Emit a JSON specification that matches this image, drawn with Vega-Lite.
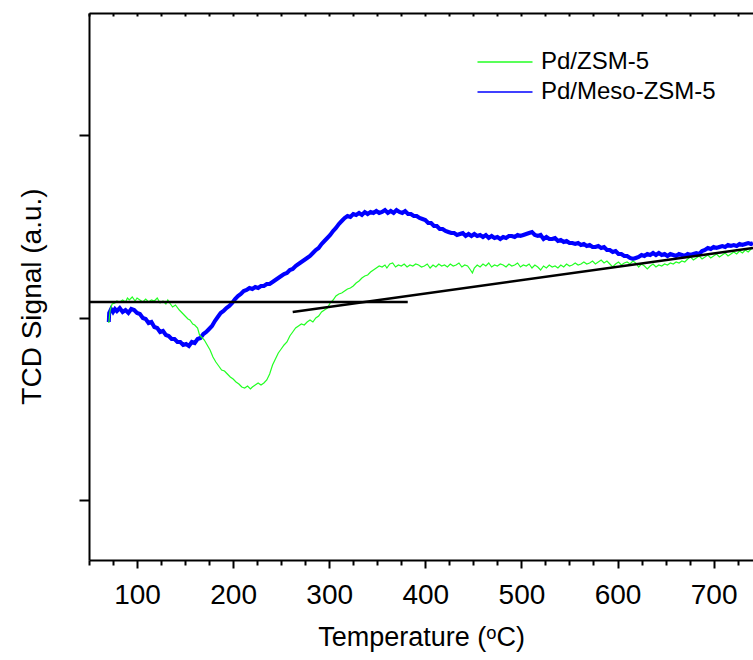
{
  "$schema": "https://vega.github.io/schema/vega-lite/v6.json",
  "width": 664,
  "height": 547,
  "autosize": {"type": "none"},
  "padding": {"left": 89, "top": 13, "right": 0, "bottom": 100},
  "config": {
    "font": "Liberation Sans",
    "view": {"stroke": null},
    "axis": {"grid": false, "domainColor": "black", "tickColor": "black", "labelColor": "black", "titleColor": "black", "titleFontWeight": "normal", "domainWidth": 2, "tickWidth": 2}
  },
  "datasets": {
    "zsm5": [
      {"T":70.6,"v":237},{"T":72,"v":250},{"T":74,"v":256},{"T":77,"v":257},{"T":79,"v":259},{"T":82,"v":258},{"T":85,"v":260},{"T":88,"v":258},{"T":90,"v":262},{"T":92,"v":260},{"T":95,"v":263},{"T":98,"v":259},{"T":100,"v":262},{"T":103,"v":260},{"T":106,"v":258},{"T":109,"v":261},{"T":112,"v":258},{"T":115,"v":260},{"T":118,"v":259},{"T":121,"v":262},{"T":124,"v":257},{"T":127,"v":259},{"T":130,"v":256},{"T":132,"v":260},{"T":134,"v":257},{"T":137,"v":253},{"T":140,"v":255},{"T":144,"v":250},{"T":147,"v":247},{"T":150,"v":244},{"T":153,"v":241},{"T":155,"v":240},{"T":158,"v":236},{"T":160,"v":235},{"T":163,"v":232},{"T":165,"v":225},{"T":168,"v":222},{"T":170,"v":220},{"T":173,"v":215},{"T":176,"v":210},{"T":179,"v":203},{"T":182,"v":198},{"T":185,"v":194},{"T":188,"v":190},{"T":191,"v":189},{"T":194,"v":186},{"T":197,"v":183},{"T":200,"v":181},{"T":203,"v":178},{"T":206,"v":176},{"T":209,"v":173},{"T":212,"v":172},{"T":215,"v":174},{"T":218,"v":171},{"T":220,"v":173},{"T":223,"v":175},{"T":226,"v":177},{"T":229,"v":175},{"T":232,"v":177},{"T":235,"v":180},{"T":238,"v":186},{"T":241,"v":195},{"T":244,"v":201},{"T":247,"v":207},{"T":250,"v":211},{"T":253,"v":215},{"T":256,"v":218},{"T":259,"v":224},{"T":262,"v":228},{"T":265,"v":232},{"T":268,"v":234},{"T":271,"v":236},{"T":274,"v":235},{"T":277,"v":238},{"T":280,"v":240},{"T":283,"v":238},{"T":286,"v":242},{"T":289,"v":244},{"T":292,"v":248},{"T":295,"v":250},{"T":298,"v":252},{"T":301,"v":257},{"T":304,"v":260},{"T":307,"v":264},{"T":310,"v":266},{"T":313,"v":267},{"T":316,"v":269},{"T":319,"v":271},{"T":322,"v":272},{"T":325,"v":274},{"T":328,"v":277},{"T":331,"v":279},{"T":334,"v":282},{"T":337,"v":284},{"T":340,"v":285},{"T":343,"v":288},{"T":346,"v":290},{"T":349,"v":292},{"T":352,"v":294},{"T":355,"v":293},{"T":358,"v":295},{"T":360,"v":292},{"T":363,"v":296},{"T":366,"v":297},{"T":369,"v":293},{"T":372,"v":295},{"T":375,"v":294},{"T":378,"v":296},{"T":381,"v":293},{"T":384,"v":295},{"T":387,"v":294},{"T":390,"v":296},{"T":393,"v":295},{"T":396,"v":293},{"T":399,"v":294},{"T":402,"v":296},{"T":405,"v":292},{"T":408,"v":295},{"T":411,"v":293},{"T":414,"v":296},{"T":417,"v":294},{"T":420,"v":295},{"T":423,"v":293},{"T":426,"v":296},{"T":429,"v":294},{"T":432,"v":295},{"T":435,"v":297},{"T":438,"v":293},{"T":441,"v":295},{"T":444,"v":294},{"T":447,"v":290},{"T":449,"v":287},{"T":451,"v":292},{"T":454,"v":295},{"T":457,"v":293},{"T":460,"v":296},{"T":463,"v":294},{"T":466,"v":297},{"T":469,"v":293},{"T":472,"v":295},{"T":475,"v":294},{"T":478,"v":296},{"T":481,"v":295},{"T":484,"v":293},{"T":487,"v":296},{"T":490,"v":294},{"T":493,"v":295},{"T":496,"v":297},{"T":499,"v":293},{"T":502,"v":295},{"T":505,"v":294},{"T":508,"v":296},{"T":511,"v":292},{"T":514,"v":295},{"T":517,"v":293},{"T":520,"v":290},{"T":523,"v":294},{"T":526,"v":292},{"T":529,"v":295},{"T":532,"v":293},{"T":535,"v":294},{"T":538,"v":292},{"T":541,"v":295},{"T":544,"v":293},{"T":547,"v":296},{"T":550,"v":294},{"T":553,"v":295},{"T":556,"v":297},{"T":559,"v":295},{"T":562,"v":296},{"T":565,"v":298},{"T":568,"v":296},{"T":571,"v":297},{"T":574,"v":299},{"T":577,"v":296},{"T":580,"v":298},{"T":583,"v":300},{"T":586,"v":297},{"T":589,"v":299},{"T":592,"v":296},{"T":595,"v":293},{"T":598,"v":296},{"T":601,"v":298},{"T":604,"v":295},{"T":607,"v":297},{"T":610,"v":298},{"T":613,"v":296},{"T":616,"v":299},{"T":619,"v":297},{"T":622,"v":293},{"T":625,"v":296},{"T":628,"v":294},{"T":631,"v":291},{"T":634,"v":294},{"T":637,"v":296},{"T":640,"v":293},{"T":643,"v":295},{"T":646,"v":294},{"T":649,"v":296},{"T":652,"v":295},{"T":655,"v":297},{"T":658,"v":296},{"T":661,"v":298},{"T":664,"v":297},{"T":667,"v":299},{"T":670,"v":298},{"T":673,"v":301},{"T":676,"v":303},{"T":679,"v":300},{"T":682,"v":302},{"T":685,"v":304},{"T":688,"v":301},{"T":691,"v":303},{"T":694,"v":305},{"T":697,"v":302},{"T":700,"v":304},{"T":703,"v":306},{"T":706,"v":303},{"T":709,"v":305},{"T":712,"v":307},{"T":715,"v":304},{"T":718,"v":306},{"T":721,"v":308},{"T":724,"v":306},{"T":727,"v":309},{"T":730,"v":307},{"T":733,"v":310},{"T":736,"v":308},{"T":739,"v":311},{"T":741,"v":312}
    ],
    "meso": [
      {"T":70.6,"v":238},{"T":71,"v":247},{"T":73,"v":251},{"T":75,"v":248},{"T":77,"v":251},{"T":79,"v":249},{"T":82,"v":252},{"T":85,"v":248},{"T":88,"v":250},{"T":91,"v":247},{"T":94,"v":251},{"T":97,"v":250},{"T":100,"v":247},{"T":103,"v":246},{"T":106,"v":242},{"T":109,"v":241},{"T":112,"v":237},{"T":115,"v":238},{"T":118,"v":233},{"T":121,"v":232},{"T":124,"v":228},{"T":127,"v":229},{"T":130,"v":225},{"T":133,"v":224},{"T":136,"v":221},{"T":139,"v":221},{"T":142,"v":218},{"T":145,"v":218},{"T":148,"v":215},{"T":151,"v":216},{"T":154,"v":214},{"T":157,"v":218},{"T":160,"v":217},{"T":163,"v":221},{"T":166,"v":222},{"T":169,"v":226},{"T":172,"v":228},{"T":175,"v":231},{"T":178,"v":234},{"T":181,"v":239},{"T":184,"v":243},{"T":187,"v":247},{"T":190,"v":249},{"T":193,"v":252},{"T":196,"v":254},{"T":199,"v":257},{"T":202,"v":261},{"T":205,"v":264},{"T":208,"v":266},{"T":211,"v":269},{"T":214,"v":270},{"T":217,"v":272},{"T":220,"v":271},{"T":223,"v":273},{"T":226,"v":272},{"T":229,"v":274},{"T":232,"v":274},{"T":235,"v":276},{"T":238,"v":276},{"T":241,"v":278},{"T":244,"v":280},{"T":247,"v":282},{"T":250,"v":284},{"T":253,"v":286},{"T":256,"v":287},{"T":259,"v":290},{"T":262,"v":291},{"T":265,"v":294},{"T":268,"v":296},{"T":271,"v":298},{"T":274,"v":300},{"T":277,"v":302},{"T":280,"v":304},{"T":283,"v":307},{"T":286,"v":310},{"T":289,"v":312},{"T":292,"v":316},{"T":295,"v":319},{"T":298,"v":322},{"T":301,"v":325},{"T":304,"v":329},{"T":307,"v":332},{"T":310,"v":336},{"T":313,"v":339},{"T":316,"v":342},{"T":319,"v":344},{"T":322,"v":343},{"T":325,"v":346},{"T":328,"v":345},{"T":331,"v":347},{"T":334,"v":345},{"T":337,"v":348},{"T":340,"v":346},{"T":343,"v":348},{"T":346,"v":347},{"T":349,"v":349},{"T":352,"v":347},{"T":355,"v":348},{"T":358,"v":350},{"T":361,"v":347},{"T":364,"v":349},{"T":367,"v":347},{"T":370,"v":350},{"T":373,"v":348},{"T":376,"v":347},{"T":379,"v":349},{"T":382,"v":346},{"T":385,"v":346},{"T":388,"v":344},{"T":391,"v":344},{"T":394,"v":342},{"T":397,"v":341},{"T":400,"v":340},{"T":403,"v":337},{"T":406,"v":337},{"T":409,"v":334},{"T":412,"v":334},{"T":415,"v":331},{"T":418,"v":331},{"T":421,"v":329},{"T":424,"v":328},{"T":427,"v":327},{"T":430,"v":327},{"T":433,"v":325},{"T":436,"v":326},{"T":439,"v":327},{"T":442,"v":324},{"T":445,"v":326},{"T":448,"v":324},{"T":451,"v":326},{"T":454,"v":324},{"T":457,"v":325},{"T":460,"v":323},{"T":463,"v":325},{"T":466,"v":322},{"T":469,"v":324},{"T":472,"v":322},{"T":475,"v":323},{"T":478,"v":321},{"T":481,"v":323},{"T":484,"v":322},{"T":487,"v":324},{"T":490,"v":324},{"T":493,"v":323},{"T":496,"v":325},{"T":499,"v":324},{"T":502,"v":325},{"T":505,"v":326},{"T":508,"v":327},{"T":511,"v":328},{"T":514,"v":325},{"T":517,"v":324},{"T":520,"v":325},{"T":523,"v":321},{"T":526,"v":323},{"T":529,"v":321},{"T":532,"v":321},{"T":535,"v":322},{"T":538,"v":319},{"T":541,"v":320},{"T":544,"v":318},{"T":547,"v":319},{"T":550,"v":317},{"T":553,"v":317},{"T":556,"v":316},{"T":559,"v":317},{"T":562,"v":315},{"T":565,"v":316},{"T":568,"v":314},{"T":571,"v":315},{"T":574,"v":313},{"T":577,"v":313},{"T":580,"v":314},{"T":583,"v":312},{"T":586,"v":313},{"T":589,"v":310},{"T":592,"v":310},{"T":595,"v":308},{"T":598,"v":309},{"T":601,"v":306},{"T":604,"v":306},{"T":607,"v":304},{"T":610,"v":304},{"T":613,"v":302},{"T":616,"v":301},{"T":619,"v":302},{"T":622,"v":303},{"T":625,"v":305},{"T":628,"v":304},{"T":631,"v":306},{"T":634,"v":305},{"T":637,"v":307},{"T":640,"v":305},{"T":643,"v":307},{"T":646,"v":305},{"T":649,"v":306},{"T":652,"v":304},{"T":655,"v":306},{"T":658,"v":305},{"T":661,"v":304},{"T":664,"v":306},{"T":667,"v":305},{"T":670,"v":304},{"T":673,"v":306},{"T":676,"v":305},{"T":679,"v":306},{"T":682,"v":307},{"T":685,"v":306},{"T":688,"v":309},{"T":691,"v":310},{"T":694,"v":312},{"T":697,"v":311},{"T":700,"v":313},{"T":703,"v":312},{"T":706,"v":313},{"T":709,"v":314},{"T":712,"v":313},{"T":715,"v":315},{"T":718,"v":314},{"T":721,"v":315},{"T":724,"v":314},{"T":727,"v":316},{"T":730,"v":315},{"T":733,"v":316},{"T":736,"v":317},{"T":739,"v":316},{"T":741,"v":317}
    ],
    "baseline": [
      {"seg":"onset","T":50.5,"v":258},{"seg":"onset","T":381.7,"v":258},
      {"seg":"slope","T":262,"v":248},{"seg":"slope","T":741,"v":312}
    ]
  },
  "layer": [
    {
      "data": {"name": "meso"},
      "mark": {"type": "line", "strokeWidth": 4, "clip": true},
      "encoding": {
        "x": {"field": "T", "type": "quantitative", "scale": {"domain": [50, 741], "nice": false, "zero": false},
          "axis": {"orient": "bottom", "values": [100,200,300,400,500,600,700], "tickSize": 8, "labelFontSize": 28, "labelPadding": 13, "title": "Temperature (ᵒC)", "titleFontSize": 27, "titlePadding": 15}},
        "y": {"field": "v", "type": "quantitative", "scale": {"domain": [0, 547], "nice": false, "zero": false},
          "axis": {"orient": "left", "values": [60, 242.5, 425], "labels": false, "tickSize": 10, "title": "TCD Signal (a.u.)", "titleFontSize": 28, "titlePadding": 32, "titleY": 283}},
        "color": {"datum": "Pd/Meso-ZSM-5", "type": "nominal",
          "scale": {"domain": ["Pd/ZSM-5", "Pd/Meso-ZSM-5"], "range": ["#22ff22", "#0000ff"]},
          "legend": {"orient": "none", "legendX": 404, "legendY": 37, "title": null, "symbolType": "M-5,0H5", "symbolSize": 121, "symbolStrokeWidth": 1.5, "symbolFillColor": "transparent", "labelFontSize": 24, "labelOffset": 24, "labelLimit": 0, "rowPadding": 6, "padding": 0}}
      }
    },
    {
      "data": {"name": "zsm5"},
      "mark": {"type": "line", "strokeWidth": 1.2, "clip": true},
      "encoding": {
        "x": {"field": "T", "type": "quantitative",
          "axis": {"orient": "bottom", "values": [50,75,125,150,175,225,250,275,325,350,375,425,450,475,525,550,575,625,650,675,725], "tickSize": 5, "labels": false, "domain": false, "title": null}},
        "y": {"field": "v", "type": "quantitative", "axis": null},
        "color": {"datum": "Pd/ZSM-5", "type": "nominal"}
      }
    },
    {
      "data": {"name": "baseline"},
      "mark": {"type": "line", "strokeWidth": 2.5, "color": "black", "clip": true},
      "encoding": {
        "x": {"field": "T", "type": "quantitative",
          "axis": {"orient": "top", "values": [50,75,100,125,150,175,200,225,250,275,300,325,350,375,400,425,450,475,500,525,550,575,600,625,650,675,700,725], "tickSize": -3, "labels": false, "title": null}},
        "y": {"field": "v", "type": "quantitative", "axis": null},
        "detail": {"field": "seg"}
      }
    }
  ],
  "resolve": {"axis": {"x": "independent", "y": "independent"}}
}
